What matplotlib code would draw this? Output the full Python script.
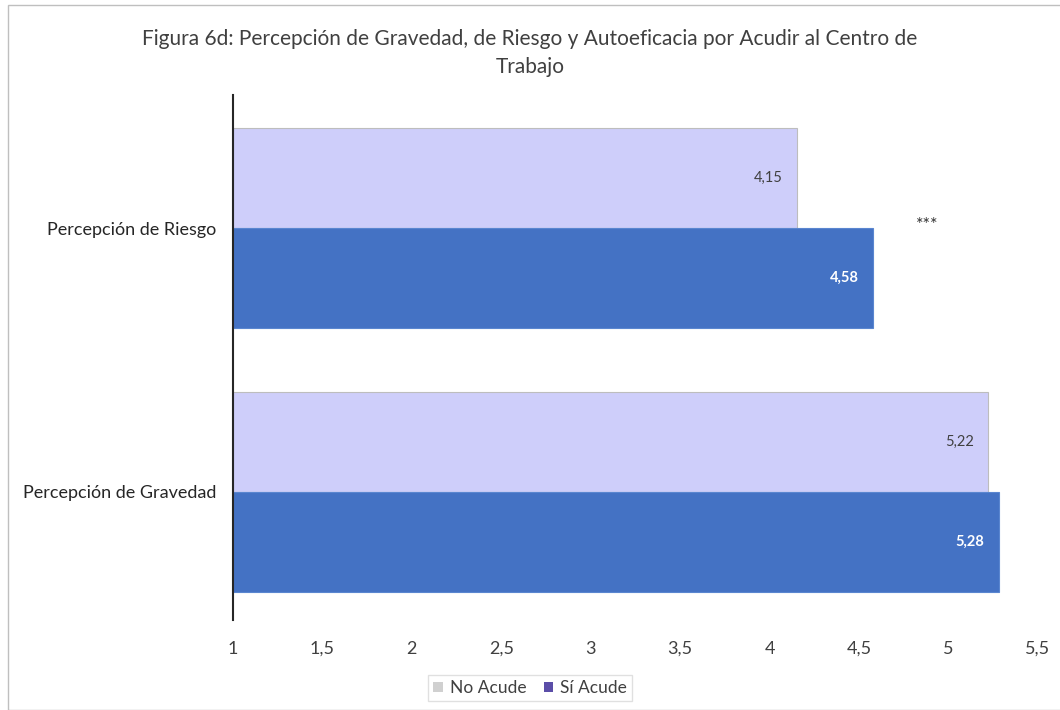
import matplotlib
matplotlib.use("Agg")
import matplotlib.pyplot as plt
from matplotlib.patches import Patch, Rectangle

categories = ["Percepción de Gravedad", "Percepción de Riesgo"]
no_acude = [5.22, 4.15]
si_acude = [5.28, 4.58]
no_labels = ["5,22", "4,15"]
si_labels = ["5,28", "4,58"]
xticks = [1, 1.5, 2, 2.5, 3, 3.5, 4, 4.5, 5, 5.5]
xtick_labels = ["1", "1,5", "2", "2,5", "3", "3,5", "4", "4,5", "5", "5,5"]
series_names = ["No Acude", "Sí Acude"]
title = "Figura 6d: Percepción de Gravedad, de Riesgo y Autoeficacia por Acudir al Centro de\nTrabajo"

plt.rcParams['font.family'] = ['Lato', 'DejaVu Sans']

fig = plt.figure(figsize=(10.6, 7.1), dpi=100)
ax = fig.add_axes([233/1060, 1-620/710, (1038-233)/1060, (620-95)/710])

h = 0.379
ypos = list(range(len(categories)))
light = "#CECEFA"
dark = "#4472C4"
for i, y in enumerate(ypos):
    ax.barh(y + h/2, no_acude[i] - 1, left=1, height=h, color=light, edgecolor="#BDBDBD", linewidth=0.8)
    ax.barh(y - h/2, si_acude[i] - 1, left=1, height=h, color=dark, edgecolor="#5A86D0", linewidth=0.8)
    ax.text(no_acude[i] - 0.08, y + h/2, no_labels[i], ha="right", va="center", fontsize=10.5, color="#404040")
    ax.text(si_acude[i] - 0.08, y - h/2, si_labels[i], ha="right", va="center", fontsize=10.5, color="white", fontweight="bold")

ax.text(4.88, 1.01, "***", ha="center", va="center", fontsize=13, color="#333333")

ax.set_xlim(1, 5.5)
ax.set_ylim(-0.485, 1.504)
ax.set_xticks(xticks)
ax.set_xticklabels(xtick_labels, fontsize=13, color="#404040")
ax.set_yticks(ypos)
ax.set_yticklabels(categories, fontsize=13, color="#262626")
ax.tick_params(axis="both", length=0)
ax.tick_params(axis="x", pad=15)
ax.tick_params(axis="y", pad=12)
for s in ["top", "right", "bottom"]:
    ax.spines[s].set_visible(False)
ax.spines["left"].set_color("#262626")
ax.spines["left"].set_linewidth(1.5)

fig.text(0.5, 1-53/710, title, ha="center", va="center", fontsize=15, color="#404040", linespacing=1.5)

handles = [Patch(facecolor="#D0D0D0", edgecolor="none"), Patch(facecolor="#5B4EA8", edgecolor="none")]
leg = fig.legend(handles, series_names, loc="center", bbox_to_anchor=(530/1060, 1-688/710), ncol=2,
                 fontsize=12.5, frameon=True, fancybox=False, edgecolor="#D9D9D9",
                 handlelength=0.55, handleheight=0.55, handletextpad=0.4, columnspacing=1.0, borderpad=0.3)
for t in leg.get_texts():
    t.set_color("#404040")

fig.patches.append(Rectangle((8/1060, 0), 1.2, 1-5/710, transform=fig.transFigure, fill=False,
                             edgecolor="#BFBFBF", linewidth=1.0))

fig.savefig("out.png", dpi=100)
